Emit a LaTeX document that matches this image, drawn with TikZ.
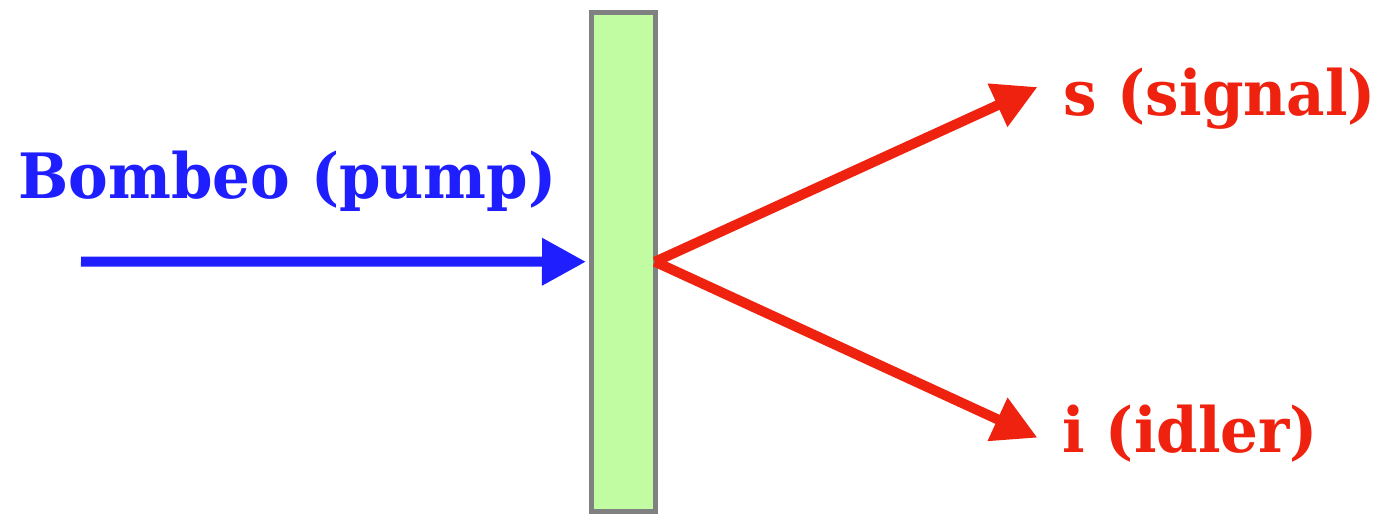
\documentclass[tikz,border=0pt]{standalone}
\usepackage{fontspec}
\setmainfont{DejaVu Serif}[FakeStretch=0.95]
\usetikzlibrary{arrows.meta}
\definecolor{pumpblue}{RGB}{30,30,255}
\definecolor{beamred}{RGB}{238,34,14}
\definecolor{crystalgreen}{RGB}{194,252,162}
\definecolor{framegray}{RGB}{128,128,128}
\begin{document}
\begin{tikzpicture}[every node/.style={font=\bfseries\fontsize{17.8}{20}\selectfont},
    beam/.style={line width=1mm, -{Triangle[length=4.4mm,width=4.5mm]}}]
            % Margens
            \useasboundingbox (0,0) rectangle (13.76,5.16);

            % Cristal
            \node[draw=framegray, line width=0.5mm, fill=crystalgreen, minimum width=6.35mm,
                  minimum height=49.95mm, inner sep=0pt] (crystal) at (6.2325,2.5425) {};

            % Textos
            \node[pumpblue, anchor=base west, inner sep=0pt] (pump) at (0.18,3.18) {Bombeo (pump)};
            \node[beamred, anchor=base west, inner sep=0pt] (signal) at (10.63,4.01) {s (signal)};
            \node[beamred, anchor=base west, inner sep=0pt] (idler) at (10.62,0.64) {i (idler)};

            % Pontos das setas
            \coordinate (pumpstart) at (0.81,2.545);
            \coordinate (origin) at ([xshift=-0.25mm]crystal.east);
            \coordinate (sigtip) at (10.375,4.29);
            \coordinate (idltip) at (10.375,0.783);

            % Setas
            \draw[beam, pumpblue, shorten >=0.3mm] (pumpstart) -- (crystal.west);
            \draw[beam, beamred] (origin) -- (sigtip);
            \draw[beam, beamred] (origin) -- (idltip);

        \end{tikzpicture}
\end{document}
